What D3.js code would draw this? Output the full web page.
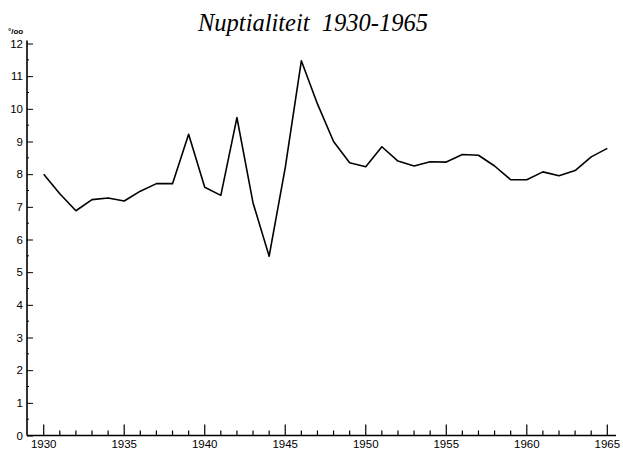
<!DOCTYPE html>
<html>
<head>
<meta charset="utf-8">
<script src="https://cdn.jsdelivr.net/npm/d3@7"></script>
<style>
  body { margin: 0; background: #fff; }
  text { font-family: "Liberation Sans", Arial, sans-serif; }
</style>
</head>
<body>
<div id="chart"></div>
<script>
// nuptialiteit per 1000 inwoners
var years = [1930, 1931, 1932, 1933, 1934, 1935, 1936, 1937, 1938, 1939,
	     1940, 1941, 1942, 1943, 1944, 1945, 1946, 1947, 1948, 1949,
	     1950, 1951, 1952, 1953, 1954, 1955, 1956, 1957, 1958, 1959,
	     1960, 1961, 1962, 1963, 1964, 1965];
var rates = [8.0, 7.4, 6.88, 7.22, 7.27, 7.18, 7.48, 7.71, 7.71, 9.22,
	     7.6, 7.35, 9.73, 7.12, 5.49, 8.2, 11.47, 10.15, 9.0, 8.35,
	     8.23, 8.84, 8.4, 8.25, 8.38, 8.37, 8.6, 8.58, 8.25, 7.83,
	     7.83, 8.07, 7.95, 8.11, 8.53, 8.79];
var yTicks = [0, 1, 2, 3, 4, 5, 6, 7, 8, 9, 10, 11, 12];
var xLabels = [1930, 1935, 1940, 1945, 1950, 1955, 1960, 1965];

var W = 623, H = 450;

var svg = d3.select("#chart").append("svg")
    .attr("width", W)
    .attr("height", H);

var x = d3.scaleLinear().domain([1930, 1965]).range([43.7, 607.3]);
var y = d3.scaleLinear().domain([0, 12]).range([435.5, 43.5]);

var axisX0 = 27;

// title (double space kept as in the original)
svg.append("text")
    .attr("x", 313)
    .attr("y", 31)
    .style("font-family", "'Liberation Serif', 'Times New Roman', serif")
    .style("font-style", "italic")
    .style("font-size", "24.5px")
    .style("white-space", "pre")
    .style("text-anchor", "middle")
    .text("Nuptialiteit  1930-1965");

// unit
svg.append("text")
    .attr("x", 8)
    .attr("y", 34)
    .style("font-size", "8px")
    .style("font-weight", "bold")
    .text("°/oo");

// y axis ticks pointing right
var yAxis = svg.append("g")
    .attr("transform", "translate(" + axisX0 + ",0)")
    .call(d3.axisRight(y).tickValues(yTicks).tickSize(6).tickFormat(""));
yAxis.select(".domain").remove();

// half unit minor ticks
svg.append("g").selectAll("line")
    .data(d3.range(0.5, 12, 1))
    .enter().append("line")
    .attr("x1", axisX0).attr("x2", axisX0 + 2)
    .attr("y1", function(d) { return y(d); })
    .attr("y2", function(d) { return y(d); })
    .style("stroke", "#000");

svg.append("line")
    .attr("x1", axisX0).attr("x2", axisX0)
    .attr("y1", y(0)).attr("y2", y(12) - 3)
    .style("stroke", "#000")
    .style("stroke-width", 1.6);

svg.append("g").selectAll("text")
    .data(yTicks).enter()
    .append("text")
    .attr("x", axisX0 - 4)
    .attr("y", function(d) { return y(d) + 4; })
    .style("text-anchor", "end")
    .style("font-size", "11.5px")
    .text(function(d) { return d; });

// x axis
svg.append("line")
    .attr("x1", axisX0).attr("x2", 616)
    .attr("y1", y(0)).attr("y2", y(0))
    .style("stroke", "#000")
    .style("stroke-width", 1.6);

svg.append("g").selectAll("line")
    .data(years).enter()
    .append("line")
    .attr("x1", function(d) { return x(d); })
    .attr("x2", function(d) { return x(d); })
    .attr("y1", y(0))
    .attr("y2", function(d) { return d % 5 == 0 ? y(0) - 11 : y(0) - 5; })
    .style("stroke", "#000")
    .style("stroke-width", 1.2);

svg.append("g").selectAll("text")
    .data(xLabels).enter()
    .append("text")
    .attr("x", function(d) { return x(d); })
    .attr("y", 448)
    .style("text-anchor", "middle")
    .style("font-size", "11.5px")
    .text(function(d) { return d; });

// the series
var line = d3.line()
    .x(function(d, i) { return x(years[i]); })
    .y(function(d) { return y(d); });

svg.append("path")
    .datum(rates)
    .attr("d", line)
    .style("fill", "none")
    .style("stroke", "#000")
    .style("stroke-width", 1.6)
    .style("stroke-linejoin", "round");
</script>
</body>
</html>
